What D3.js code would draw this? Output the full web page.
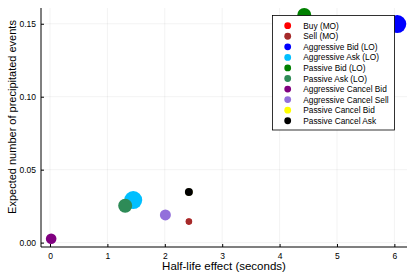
<!DOCTYPE html>
<html>
<head>
<meta charset="utf-8">
<script src="https://cdn.jsdelivr.net/npm/d3@7"></script>
<style>
    body { margin: 0; background: #fff; }
    text { font-family: "Liberation Sans", Arial, sans-serif; }
</style>
</head>
<body>
<div id="chart"></div>
<script>
    // series, in legend order
    var names = ["Buy (MO)", "Sell (MO)", "Aggressive Bid (LO)", "Aggressive Ask (LO)",
        "Passive Bid (LO)", "Passive Ask (LO)", "Aggressive Cancel Bid",
        "Aggressive Cancel Sell", "Passive Cancel Bid", "Passive Cancel Ask"];
    var colors = ["red", "brown", "blue", "deepskyblue", "green", "seagreen",
        "purple", "mediumpurple", "yellow", "black"];
    var halfLife = [2.42, 2.42, 6.05, 1.45, 4.43, 1.31, 0.02, 2.01, 2.42, 2.42];
    var expected = [0.0144, 0.0144, 0.1498, 0.0292, 0.1560, 0.0253, 0.0027, 0.0190, 0.0347, 0.0347];
    var sizes = [3.0, 3.3, 9.0, 9.0, 7.0, 7.0, 5.3, 5.5, 3.6, 4.0];
    // draw order (hidden ones first)
    var order = [0, 8, 1, 2, 3, 4, 5, 6, 7, 9];

    var xTicks = [0, 1, 2, 3, 4, 5, 6];
    var yTicks = [0, 0.05, 0.10, 0.15];

    var W = 415, H = 277;
    var pLeft = 41, pRight = 407, pTop = 8, pBottom = 247;

    var x = d3.scaleLinear().domain([-0.157, 6.22]).range([pLeft, pRight]);
    var y = d3.scaleLinear().domain([-0.003, 0.1608]).range([pBottom, pTop]);

    var svg = d3.select('#chart').append('svg').attr('width', W).attr('height', H);

    // grid
    svg.append('g').selectAll('line').data(xTicks).enter().append('line')
        .attr('x1', function (d) { return x(d); }).attr('x2', function (d) { return x(d); })
        .attr('y1', pTop).attr('y2', pBottom)
        .attr('stroke', '#000').attr('stroke-opacity', 0.1).attr('stroke-width', 0.5);
    svg.append('g').selectAll('line').data(yTicks).enter().append('line')
        .attr('y1', function (d) { return y(d); }).attr('y2', function (d) { return y(d); })
        .attr('x1', pLeft).attr('x2', pRight)
        .attr('stroke', '#000').attr('stroke-opacity', 0.1).attr('stroke-width', 0.5);

    svg.append('clipPath').attr('id', 'plotclip').append('rect')
        .attr('x', pLeft).attr('y', 0).attr('width', pRight - pLeft).attr('height', pBottom);

    // points
    svg.append('g').attr('clip-path', 'url(#plotclip)')
        .selectAll('circle').data(order).enter().append('circle')
        .attr('cx', function (i) { return x(halfLife[i]); })
        .attr('cy', function (i) { return y(expected[i]); })
        .attr('r', function (i) { return sizes[i]; })
        .attr('fill', function (i) { return colors[i]; });

    // axes
    var xAxis = d3.axisBottom(x).tickValues(xTicks).tickSize(-3).tickPadding(6)
        .tickFormat(d3.format('d'));
    var gx = svg.append('g').attr('transform', 'translate(0,' + pBottom + ')').call(xAxis);
    var yAxis = d3.axisLeft(y).tickValues(yTicks).tickSize(-3).tickPadding(5)
        .tickFormat(d3.format('.2f'));
    var gy = svg.append('g').attr('transform', 'translate(' + pLeft + ',0)').call(yAxis);
    [gx, gy].forEach(function (g) {
        g.select('.domain').attr('stroke', '#000').attr('stroke-width', 1);
        g.selectAll('.tick line').attr('stroke', '#000');
        g.selectAll('.tick text').attr('font-size', 8.5).attr('fill', '#000')
            .style('font-family', '"Liberation Sans", Arial, sans-serif');
    });
    gx.select('.domain').attr('d', 'M' + pLeft + ',0H' + pRight);
    gy.select('.domain').attr('d', 'M0,' + pTop + 'V' + pBottom);

    // axis titles
    svg.append('text').attr('x', 224).attr('y', 270)
        .attr('text-anchor', 'middle').attr('font-size', 11.5).text('Half-life effect (seconds)');
    svg.append('text').attr('transform', 'translate(16,117) rotate(-90)')
        .attr('text-anchor', 'middle').attr('font-size', 11).text('Expected number of precipitated events');

    // legend
    var lg = svg.append('g');
    lg.append('rect').attr('x', 272.5).attr('y', 15.5).attr('width', 122).attr('height', 114.5)
        .attr('fill', '#fff').attr('stroke', '#000').attr('stroke-width', 0.8);
    var rows = lg.selectAll('g').data(names).enter().append('g')
        .attr('transform', function (d, i) { return 'translate(0,' + (25.7 + i * 10.56) + ')'; });
    rows.append('circle').attr('cx', 287.7).attr('cy', 0).attr('r', 3.4)
        .attr('fill', function (d, i) { return colors[i]; });
    rows.append('text').attr('x', 303.3).attr('y', 3).attr('font-size', 8.3).text(function (d) { return d; });
</script>
</body>
</html>
